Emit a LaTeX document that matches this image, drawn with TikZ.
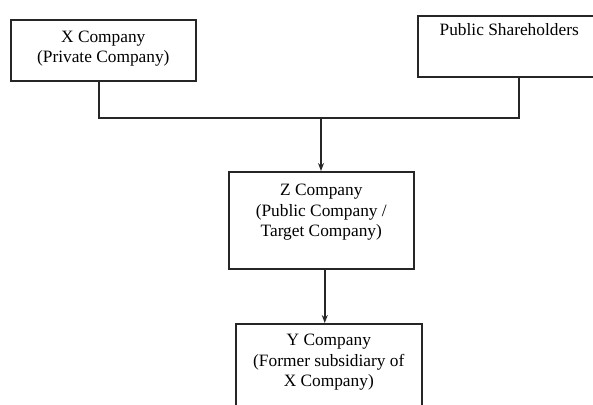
\documentclass[tikz,border=0pt]{standalone}
\usepackage{fontspec}
\setmainfont{Liberation Serif}
\usetikzlibrary{positioning}
\usetikzlibrary{arrows.meta}

\tikzset{
	box/.style={draw=black!85,line width=1.2pt,inner sep=0pt,anchor=north west},
	txt/.style={align=center,inner sep=0pt,font=\fontsize{13}{15.5}\selectfont},
	arr/.style={draw=black!85,line width=1.2pt,-{Stealth[length=6pt,width=4.5pt]}},
	conn/.style={draw=black!85,line width=1.2pt}
}

\begin{document}
\begin{tikzpicture}[x=0.75pt,y=-0.75pt]
	\useasboundingbox (0,0) rectangle (593,404);
	\clip (0,0) rectangle (593,404);
	\node[box,minimum width=138.75pt,minimum height=45.75pt] (x) at (10,19) {};
	\node[box,minimum width=151.5pt,minimum height=45.75pt] (p) at (417,15) {};
	\node[box,minimum width=138.75pt,minimum height=72.75pt] (z) at (228,171) {};
	\node[box,minimum width=139.5pt,minimum height=75pt] (y) at (235,323) {};
	\node[txt,below=8.5pt of x.north] (xt) {X Company\\(Private Company)};
	\node[txt,below=6.5pt of p.north,xshift=-7.2pt] (pt) {Public Shareholders};
	\node[txt,below=9.5pt of z.north] (zt) {Z Company\\(Public Company /\\Target Company)};
	\node[txt,below=8pt of y.north] (yt) {Y Company\\(Former subsidiary of\\X Company)};
	\coordinate (jn) at (321,118);
	\draw[conn] ([xshift=-3.4pt]x.south) |- (jn) -| (p.south);
	\draw[arr] (jn) -- (jn |- z.north);
	\draw[arr] ([xshift=2.6pt]z.south) -- ([xshift=2.6pt]z.south |- y.north);
\end{tikzpicture}
\end{document}
